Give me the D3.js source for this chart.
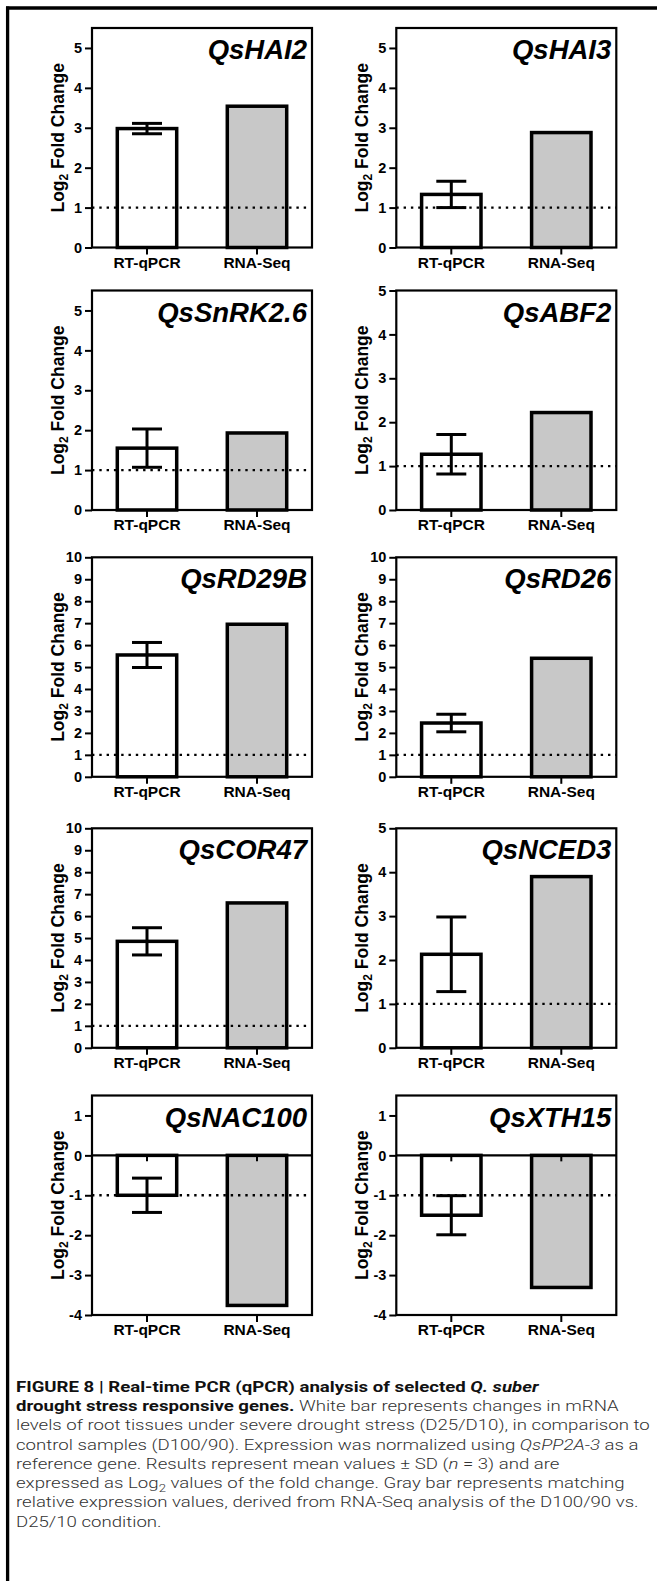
<!DOCTYPE html>
<html>
<head>
<meta charset="utf-8">
<script src="https://cdn.jsdelivr.net/npm/d3@7"></script>
<style>
  body { margin: 0; background: #fff; }
  svg { display: block; }
</style>
</head>
<body>
<div class="canvas"></div>
<script>
// DATA
const genes = ['QsHAI2', 'QsHAI3', 'QsSnRK2.6', 'QsABF2', 'QsRD29B', 'QsRD26', 'QsCOR47', 'QsNCED3', 'QsNAC100', 'QsXTH15'];
const methods = ['RT-qPCR', 'RNA-Seq'];
const qpcrMean = [2.98, 1.33, 1.55, 1.27, 5.55, 2.45, 4.85, 2.13, -1.0, -1.5];
const qpcrSD = [0.13, 0.33, 0.48, 0.45, 0.57, 0.40, 0.62, 0.85, 0.43, 0.49];
const rnaSeq = [3.54, 2.88, 1.93, 2.22, 6.95, 5.40, 6.60, 3.90, -3.76, -3.31];
const yMin = [0, 0, 0, 0, 0, 0, 0, 0, -4, -4];
const yMax = [5.5, 5.5, 5.5, 5, 10, 10, 10, 5, 1.5, 1.5];
const yTicks = [
    [0, 1, 2, 3, 4, 5], [0, 1, 2, 3, 4, 5], [0, 1, 2, 3, 4, 5], [0, 1, 2, 3, 4, 5],
    [0, 1, 2, 3, 4, 5, 6, 7, 8, 9, 10], [0, 1, 2, 3, 4, 5, 6, 7, 8, 9, 10],
    [0, 1, 2, 3, 4, 5, 6, 7, 8, 9, 10], [0, 1, 2, 3, 4, 5],
    [-4, -3, -2, -1, 0, 1], [-4, -3, -2, -1, 0, 1]
];
const refLine = [1, 1, 1, 1, 1, 1, 1, 1, -1, -1];


// layout
const colX = [92, 396.3];
const rowY = [28, 290.5, 557.3, 828.3, 1095.5];
const W = 220, H = 219.5;
const font = '"Liberation Sans", Arial, Helvetica, sans-serif';


const svg = d3.select('.canvas').append('svg')
    .attr('width', 657)
    .attr('height', 1581);

// outer figure frame (top + left)
svg.append('line').attr('x1', 6).attr('x2', 657).attr('y1', 8).attr('y2', 8)
    .attr('stroke', '#000').attr('stroke-width', 3.3);
svg.append('line').attr('x1', 7.6).attr('x2', 7.6).attr('y1', 6.4).attr('y2', 1581)
    .attr('stroke', '#000').attr('stroke-width', 3.3);


genes.forEach((gene, i) => {
    const L = colX[i % 2];
    const T = rowY[Math.floor(i / 2)];
    const g = svg.append('g').attr('transform', `translate(${L},${T})`);

    const x = d3.scaleBand().domain(methods).range([0, W])
        .paddingInner(0.46).paddingOuter(0.23);
    const y = d3.scaleLinear().domain([yMin[i], yMax[i]]).range([H, 0]);

    const values = [qpcrMean[i], rnaSeq[i]];

    // BARS
    g.selectAll('rect.bar')
        .data(methods)
        .join('rect')
        .attr('class', 'bar')
        .attr('x', d => x(d))
        .attr('width', x.bandwidth())
        .attr('y', (d, j) => y(Math.max(0, values[j])))
        .attr('height', (d, j) => Math.abs(y(values[j]) - y(0)))
        .attr('fill', (d, j) => j === 0 ? '#fff' : '#c8c8c8')
        .attr('stroke', '#000')
        .attr('stroke-width', 3.5);

    // dotted reference line
    g.append('line')
        .attr('x1', 0).attr('x2', W)
        .attr('y1', y(refLine[i])).attr('y2', y(refLine[i]))
        .attr('stroke', '#000')
        .attr('stroke-width', 2.4)
        .attr('stroke-dasharray', '2.4,4.9');

    // zero line with small ticks for negative panels
    if (yMin[i] < 0) {
        g.append('line')
            .attr('x1', 0).attr('x2', W)
            .attr('y1', y(0)).attr('y2', y(0))
            .attr('stroke', '#000').attr('stroke-width', 2.4);
        methods.forEach(m => {
            g.append('line')
                .attr('x1', x(m) + x.bandwidth() / 2).attr('x2', x(m) + x.bandwidth() / 2)
                .attr('y1', y(0)).attr('y2', y(0) + 6)
                .attr('stroke', '#000').attr('stroke-width', 2);
        });
    }

    // ERROR BAR (RT-qPCR)
    const cx = x(methods[0]) + x.bandwidth() / 2;
    const lo = y(qpcrMean[i] - qpcrSD[i]);
    const hi = y(qpcrMean[i] + qpcrSD[i]);
    const eb = g.append('g').attr('stroke', '#000').attr('stroke-width', 3);
    eb.append('line').attr('x1', cx).attr('x2', cx).attr('y1', lo).attr('y2', hi);
    eb.append('line').attr('x1', cx - 15).attr('x2', cx + 15).attr('y1', lo).attr('y2', lo);
    eb.append('line').attr('x1', cx - 15).attr('x2', cx + 15).attr('y1', hi).attr('y2', hi);

    // plot frame
    g.append('rect')
        .attr('width', W).attr('height', H)
        .attr('fill', 'none')
        .attr('stroke', '#000')
        .attr('stroke-width', 2.2);

    // AXES
    const yAxis = g.append('g')
        .call(d3.axisLeft(y).tickValues(yTicks[i]).tickSize(7).tickPadding(3)
            .tickFormat(d => String(d)));
    const xAxis = g.append('g')
        .attr('transform', `translate(0,${H})`)
        .call(d3.axisBottom(x).tickSize(7).tickPadding(2));

    [yAxis, xAxis].forEach(a => {
        a.select('.domain').remove();
        a.selectAll('line').attr('stroke', '#000').attr('stroke-width', 2);
        a.selectAll('text')
            .attr('fill', '#000')
            .style('font-family', font)
            .style('font-weight', 700);
    });
    yAxis.selectAll('text').style('font-size', '14.5px');
    xAxis.selectAll('text').style('font-size', '15.5px');

    // y label
    const yl = g.append('text')
        .attr('transform', `translate(-28,${H / 2}) rotate(-90)`)
        .attr('text-anchor', 'middle')
        .style('font-family', font)
        .style('font-weight', 700)
        .style('font-size', '17.5px');
    yl.append('tspan').text('Log');
    yl.append('tspan').attr('dy', 4).style('font-size', '12px').text('2');
    yl.append('tspan').attr('dy', -4).text(' Fold Change');

    // gene title
    g.append('text')
        .attr('x', W - 5)
        .attr('y', 31)
        .attr('text-anchor', 'end')
        .style('font-family', font)
        .style('font-weight', 700)
        .style('font-style', 'italic')
        .style('font-size', '27.5px')
        .text(gene);
});


// CAPTION
const capFont = 'Roboto, "Liberation Sans", Arial, sans-serif';
const captionLines = [
    [{ t: 'FIGURE 8 | Real-time PCR (qPCR) analysis of selected ', b: true }, { t: 'Q. suber', b: true, it: true }],
    [{ t: 'drought stress responsive genes.', b: true }, { t: ' White bar represents changes in mRNA' }],
    [{ t: 'levels of root tissues under severe drought stress (D25/D10), in comparison to' }],
    [{ t: 'control samples (D100/90). Expression was normalized using ' }, { t: 'QsPP2A-3', it: true }, { t: ' as a' }],
    [{ t: 'reference gene. Results represent mean values \u00b1 SD (' }, { t: 'n', it: true }, { t: ' = 3) and are' }],
    [{ t: 'expressed as Log' }, { t: '2', sub: true }, { t: ' values of the fold change. Gray bar represents matching', after: true }],
    [{ t: 'relative expression values, derived from RNA-Seq analysis of the D100/90 vs.' }],
    [{ t: 'D25/10 condition.' }]
];

const cap = svg.append('g');
const capLines = captionLines.map((parts, k) => {
    const txt = cap.append('text')
        .attr('x', 16)
        .attr('y', 1391.7 + k * 19.3)
        .style('font-family', capFont)
        .style('font-size', '15.5px');
    parts.forEach(p => {
        const ts = txt.append('tspan')
            .text(p.t)
            .attr('fill', p.b ? '#111' : '#333')
            .style('font-weight', p.b ? 700 : 300)
            .style('font-style', p.it ? 'italic' : 'normal');
        if (p.sub) ts.attr('dy', 3.5).style('font-size', '11px');
        if (p.after) ts.attr('dy', -3.5);
    });
    return txt;
});

// squeeze the caption horizontally so the longest line fits the reference width
const longest = capLines[2].node().getComputedTextLength();
const sx = 634 / longest;
cap.attr('transform', `translate(16,0) scale(${sx},1) translate(-16,0)`);
</script>
</body>
</html>
